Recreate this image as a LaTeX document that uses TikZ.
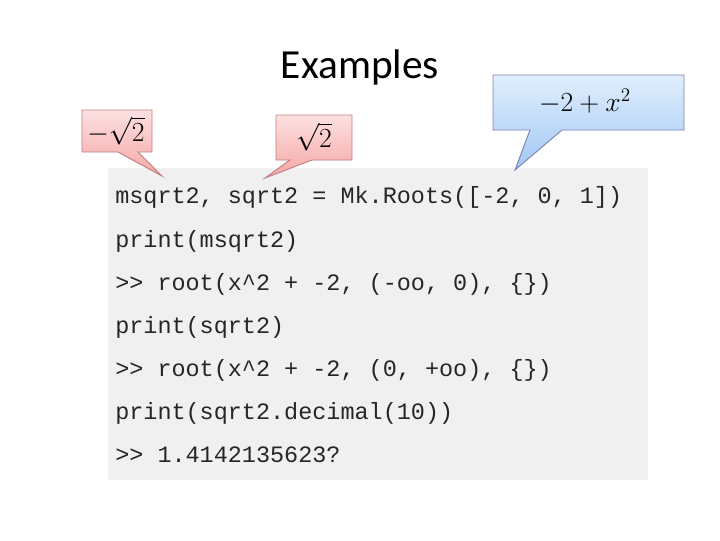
\documentclass[tikz,border=0pt]{standalone}
\usepackage{fontspec}
\setmainfont{Carlito}
\setmonofont{Liberation Mono}
\definecolor{redtop}{RGB}{253,225,225}
\definecolor{redbot}{RGB}{245,165,165}
\definecolor{bluetop}{RGB}{225,238,252}
\definecolor{bluebot}{RGB}{160,200,245}
\begin{document}
\begin{tikzpicture}[x=0.75pt,y=-0.75pt]
\tikzset{
  redcall/.style={draw=red!50!black!50, top color=redtop, bottom color=redbot, line width=0.7pt},
  bluecall/.style={draw=blue!40!black!50, top color=bluetop, bottom color=bluebot, line width=0.7pt},
  codeline/.style={anchor=base west, inner sep=0pt, font=\fontsize{17.6pt}{19pt}\ttfamily, text=black!85},
  mathlbl/.style={inner sep=0pt, font=\fontsize{20pt}{22pt}\selectfont}
}
\useasboundingbox (0,0) rectangle (720,540);
\fill[white] (0,0) rectangle (720,540);
\node[inner sep=0pt, font=\fontsize{31pt}{34pt}\selectfont] (title) at (360,67) {Examples};
\fill[black!6] (108,168) rectangle (648,480);
\node[codeline] (l1) at (115,203) {msqrt2, sqrt2 = Mk.Roots([-2, 0, 1])};
\node[codeline] (l2) at (115,247) {print(msqrt2)};
\node[codeline] (l3) at (115,290) {>> root(x\textasciicircum2 + -2, (-oo, 0), \{\})};
\node[codeline] (l4) at (115,333) {print(sqrt2)};
\node[codeline] (l5) at (115,376) {>> root(x\textasciicircum2 + -2, (0, +oo), \{\})};
\node[codeline] (l6) at (115,419) {print(sqrt2.decimal(10))};
\node[codeline] (l7) at (115,462) {>> 1.4142135623?};
\draw[redcall] (82,110) -- (152,110) -- (152,152) -- (138,152) -- (162,176) -- (118,152) -- (82,152) -- cycle;
\node[mathlbl] (c1) at (116,131) {$-\sqrt{2}$};
\draw[redcall] (276,115) -- (352,115) -- (352,160) -- (312,160) -- (265,178) -- (290,160) -- (276,160) -- cycle;
\node[mathlbl] (c2) at (314,137) {$\sqrt{2}$};
\draw[bluecall] (493,75) -- (684,75) -- (684,130) -- (562,130) -- (515,170) -- (530,130) -- (493,130) -- cycle;
\node[mathlbl] (c3) at (585,101) {$-2+x^2$};
\end{tikzpicture}
\end{document}
